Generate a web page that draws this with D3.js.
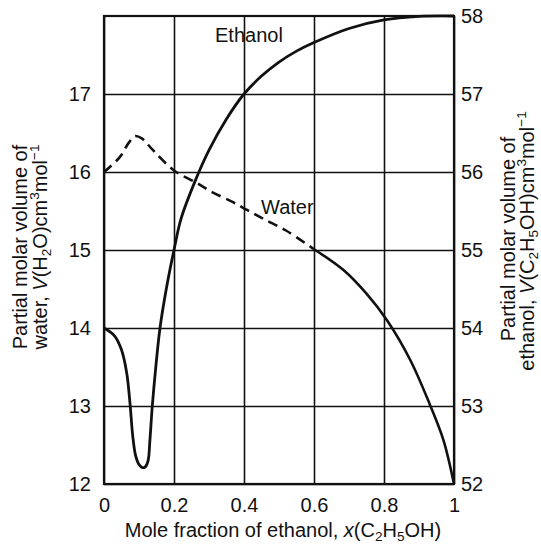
<!DOCTYPE html>
<html>
<head>
<meta charset="utf-8">
<script src="https://cdn.jsdelivr.net/npm/d3@7"></script>
<style>
  body { margin: 0; background: #fff; }
  text { font-family: "Liberation Sans", Arial, Helvetica, sans-serif; fill: #111; }
</style>
</head>
<body>
<div id="chart"></div>
<script>
// tick values
const xTicks = [0, 0.2, 0.4, 0.6, 0.8, 1];
const waterTicks = [12, 13, 14, 15, 16, 17];
const ethanolTicks = [52, 53, 54, 55, 56, 57, 58];

// water, dashed part (left axis, cm3/mol)
const waterDashX = [0, 0.045, 0.07, 0.089, 0.108, 0.14, 0.2, 0.265, 0.31, 0.37, 0.41, 0.455, 0.52, 0.6];
const waterDashV = [16.0, 16.19, 16.37, 16.46, 16.43, 16.28, 16.02, 15.86, 15.74, 15.61, 15.51, 15.4, 15.25, 15.01];
// water, solid part
const waterSolidX = [0.6, 0.685, 0.75, 0.81, 0.875, 0.93, 0.97, 1];
const waterSolidV = [15.01, 14.74, 14.44, 14.09, 13.59, 13.03, 12.56, 12.0];

// ethanol (right axis, cm3/mol)
const ethanolX = [0, 0.03, 0.05, 0.065, 0.074, 0.082, 0.09, 0.1, 0.11, 0.118, 0.126, 0.131, 0.138, 0.148, 0.16,
                  0.18, 0.2, 0.22, 0.26, 0.3, 0.35, 0.4, 0.45, 0.5, 0.55, 0.6, 0.7, 0.8, 0.9, 1];
const ethanolV = [54.0, 53.9, 53.72, 53.42, 53.05, 52.62, 52.37, 52.25, 52.21, 52.22, 52.3, 52.55, 53.0, 53.5, 54.0,
                  54.55, 55.0, 55.4, 55.88, 56.28, 56.68, 57.0, 57.23, 57.41, 57.55, 57.66, 57.84, 57.95, 57.995, 58.0];

const W = 541, H = 544;
const plotL = 104, plotR = 454, plotT = 16, plotB = 484;

const svg = d3.select('#chart')
  .append('svg')
  .attr('width', W)
  .attr('height', H)
  .attr('viewBox', '0 0 ' + W + ' ' + H);

const x = d3.scaleLinear().domain([0, 1]).range([plotL, plotR]);
const yW = d3.scaleLinear().domain([12, 18]).range([plotB, plotT]);
const yE = d3.scaleLinear().domain([52, 58]).range([plotB, plotT]);

// bottom axis + vertical grid
const gx = svg.append('g')
  .attr('transform', 'translate(0,' + plotB + ')')
  .call(d3.axisBottom(x).tickValues(xTicks).tickSizeInner(-(plotB - plotT)).tickSizeOuter(0)
    .tickPadding(14).tickFormat(d => String(d)));

// left axis + horizontal grid
const gy = svg.append('g')
  .attr('transform', 'translate(' + plotL + ',0)')
  .call(d3.axisLeft(yW).tickValues(waterTicks).tickSizeInner(-(plotR - plotL)).tickSizeOuter(0)
    .tickPadding(13).tickFormat(d => String(d)));

// right axis
const gr = svg.append('g')
  .attr('transform', 'translate(' + plotR + ',0)')
  .call(d3.axisRight(yE).tickValues(ethanolTicks).tickSize(0).tickPadding(7).tickFormat(d => String(d)));

[gx, gy, gr].forEach(g => {
  g.select('.domain').remove();
  g.selectAll('.tick line').attr('stroke', '#111').attr('stroke-width', 1.6);
  g.selectAll('.tick text').attr('font-size', 20).attr('fill', '#111')
    .style('font-family', '"Liberation Sans", Arial, sans-serif');
});

// frame
svg.append('rect')
  .attr('x', plotL).attr('y', plotT)
  .attr('width', plotR - plotL).attr('height', plotB - plotT)
  .attr('fill', 'none').attr('stroke', '#111').attr('stroke-width', 2.2);

const zip = (xs, vs) => xs.map((d, i) => [d, vs[i]]);

const smooth = d3.curveCatmullRom.alpha(0.5);
const lineW = d3.line().x(d => x(d[0])).y(d => yW(d[1])).curve(smooth);
const lineE = d3.line().x(d => x(d[0])).y(d => yE(d[1])).curve(smooth);

svg.append('path')
  .attr('d', lineW(zip(waterDashX, waterDashV)))
  .attr('fill', 'none').attr('stroke', '#111').attr('stroke-width', 2.6)
  .attr('stroke-dasharray', '10,6');

svg.append('path')
  .attr('d', lineW(zip(waterSolidX, waterSolidV)))
  .attr('fill', 'none').attr('stroke', '#111').attr('stroke-width', 2.6);

svg.append('path')
  .attr('d', lineE(zip(ethanolX, ethanolV)))
  .attr('fill', 'none').attr('stroke', '#111').attr('stroke-width', 2.8)
  .attr('stroke-linejoin', 'round');

// curve labels
svg.append('text').attr('x', 215).attr('y', 42).attr('font-size', 20).text('Ethanol');
svg.append('text').attr('x', 261).attr('y', 214).attr('font-size', 20).text('Water');

// text with sub/superscripts
const richText = (sel, parts, size) => {
  let shift = 0;
  parts.forEach(p => {
    const target = p.sub ? 4 : p.sup ? -8 : 0;
    const ts = sel.append('tspan').text(p.t).attr('dy', target - shift);
    if (p.sub || p.sup) ts.attr('font-size', size * 0.68);
    if (p.it) ts.style('font-style', 'italic');
    shift = target;
  });
}

const xTitle = svg.append('text')
  .attr('x', 283).attr('y', 537).attr('text-anchor', 'middle').attr('font-size', 20);
richText(xTitle, [
  {t: 'Mole fraction of ethanol, '}, {t: 'x', it: true}, {t: '(C'}, {t: '2', sub: true},
  {t: 'H'}, {t: '5', sub: true}, {t: 'OH)'}
], 20);

svg.append('text')
  .attr('transform', 'translate(27,247) rotate(-90)')
  .attr('text-anchor', 'middle').attr('font-size', 20)
  .text('Partial molar volume of');
const lt2 = svg.append('text')
  .attr('transform', 'translate(47,247) rotate(-90)')
  .attr('text-anchor', 'middle').attr('font-size', 20);
richText(lt2, [
  {t: 'water, '}, {t: 'V', it: true}, {t: '(H'}, {t: '2', sub: true}, {t: 'O)cm'},
  {t: '3', sup: true}, {t: 'mol'}, {t: '\u22121', sup: true}
], 20);

svg.append('text')
  .attr('transform', 'translate(515,239) rotate(-90)')
  .attr('text-anchor', 'middle').attr('font-size', 20)
  .text('Partial molar volume of');
const rt2 = svg.append('text')
  .attr('transform', 'translate(534,241) rotate(-90)')
  .attr('text-anchor', 'middle').attr('font-size', 20);
richText(rt2, [
  {t: 'ethanol, '}, {t: 'V', it: true}, {t: '(C'}, {t: '2', sub: true}, {t: 'H'},
  {t: '5', sub: true}, {t: 'OH)cm'}, {t: '3', sup: true}, {t: 'mol'}, {t: '\u22121', sup: true}
], 20);
</script>
</body>
</html>
